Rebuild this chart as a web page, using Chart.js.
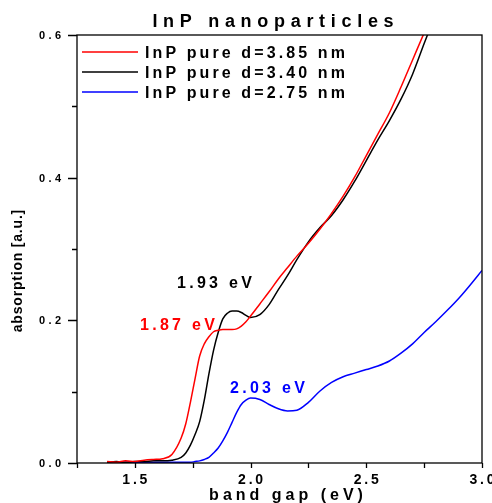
<!DOCTYPE html>
<html>
<head>
<meta charset="utf-8">
<script src="https://cdn.jsdelivr.net/npm/chart.js@4/dist/chart.umd.min.js"></script>
<style>
  html, body { margin: 0; padding: 0; background: #fff; }
  canvas { display: block; }
</style>
</head>
<body>
<canvas id="absChart" width="492" height="503"></canvas>
<script>
// Photon energy grid (eV), shared by all three spectra
const energy = [
    1.38, 1.42, 1.46, 1.50, 1.54, 1.58, 1.62, 1.66, 1.70, 1.72,
    1.74, 1.76, 1.78, 1.80, 1.82, 1.84, 1.86, 1.88, 1.90, 1.92,
    1.94, 1.96, 1.98, 2.00, 2.04, 2.08, 2.12, 2.16, 2.20, 2.25,
    2.30, 2.35, 2.40, 2.45, 2.50, 2.55, 2.60, 2.65, 2.70, 2.75,
    2.80, 2.85, 2.90, 2.95, 3.00
];

// Absorption [a.u.] per particle size
const absD385 = [
    0.002, 0.001, 0.003, 0.002, 0.004, 0.005, 0.006, 0.012, 0.035, 0.055,
    0.085, 0.118, 0.150, 0.167, 0.177, 0.184, 0.186, 0.187, 0.187, 0.187,
    0.188, 0.192, 0.198, 0.206, 0.223, 0.240, 0.258, 0.274, 0.290, 0.308,
    0.328, 0.350, 0.374, 0.401, 0.431, 0.461, 0.491, 0.527, 0.565, 0.603,
    0.640, 0.680, 0.720, 0.760, 0.800
];
const absD340 = [
    0.001, 0.002, 0.001, 0.002, 0.002, 0.003, 0.003, 0.004, 0.008, 0.014,
    0.025, 0.040, 0.058, 0.088, 0.125, 0.158, 0.183, 0.202, 0.210, 0.213,
    0.213, 0.211, 0.207, 0.204, 0.208, 0.222, 0.243, 0.263, 0.285, 0.310,
    0.330, 0.347, 0.369, 0.395, 0.424, 0.453, 0.480, 0.510, 0.545, 0.588,
    0.630, 0.670, 0.710, 0.750, 0.790
];
const absD275 = [
    0.001, 0.001, 0.001, 0.001, 0.001, 0.001, 0.001, 0.001, 0.001, 0.001,
    0.001, 0.002, 0.003, 0.005, 0.008, 0.014, 0.021, 0.031, 0.043, 0.057,
    0.071, 0.082, 0.088, 0.091, 0.089, 0.082, 0.076, 0.073, 0.074, 0.085,
    0.101, 0.113, 0.121, 0.126, 0.131, 0.136, 0.143, 0.154, 0.167, 0.183,
    0.198, 0.214, 0.231, 0.250, 0.270
];

const seriesLabels = ['InP pure d=3.85 nm', 'InP pure d=3.40 nm', 'InP pure d=2.75 nm'];
const seriesColors = ['#ff0000', '#000000', '#0000ff'];

// Exciton peak labels, coloured like their series, anchored at energy/absorption
const peakLabels = ['1.87 eV', '1.93 eV', '2.03 eV'];
const peakAnchorX = [1.522, 1.682, 1.911];
const peakAnchorY = [0.186, 0.245, 0.098];

const xMin = 1.25, xMax = 3.0, xStep = 0.25;
const yMin = 0.0, yMax = 0.6, yStep = 0.1;

const FONT = '"Liberation Sans", Arial, sans-serif';

function toPoints(ys) {
    return energy.map((x, i) => ({ x: x, y: ys[i] }));
}

// Draw text with extra tracking between letters
function spacedText(ctx, text, x, y, size, spacing, color, align) {
    ctx.save();
    ctx.font = 'bold ' + size + 'px ' + FONT;
    ctx.fillStyle = color;
    ctx.textAlign = 'left';
    ctx.letterSpacing = '0px';
    const w = ctx.measureText(text).width + spacing * (text.length - 1);
    let x0 = x;
    if (align === 'center') x0 = x - w / 2;
    else if (align === 'right') x0 = x - w;
    ctx.letterSpacing = spacing + 'px';
    ctx.fillText(text, x0, y);
    ctx.restore();
}

const frameAndText = {
    id: 'frameAndText',
    afterDraw(chart) {
        const ctx = chart.ctx;
        const a = chart.chartArea;
        const xs = chart.scales.x;
        const ys = chart.scales.y;

        // frame
        ctx.save();
        ctx.strokeStyle = '#000';
        ctx.lineWidth = 1.3;
        ctx.strokeRect(a.left, a.top, a.right - a.left, a.bottom - a.top);

        // x ticks (outward)
        ctx.beginPath();
        xs.ticks.forEach(t => {
            const px = Math.round(xs.getPixelForValue(t.value)) + 0.5;
            ctx.moveTo(px, a.bottom);
            ctx.lineTo(px, a.bottom + 5);
        });
        // y ticks: long on labelled values, short in between
        ys.ticks.forEach(t => {
            const py = Math.round(ys.getPixelForValue(t.value)) + 0.5;
            const major = Math.abs(t.value / 0.2 - Math.round(t.value / 0.2)) < 1e-6;
            ctx.moveTo(a.left, py);
            ctx.lineTo(a.left - (major ? 9 : 5), py);
        });
        ctx.stroke();
        ctx.restore();

        // tick labels
        xs.ticks.forEach(t => {
            if (Math.abs(t.value / 0.5 - Math.round(t.value / 0.5)) > 1e-6) return;
            spacedText(ctx, t.value.toFixed(1), xs.getPixelForValue(t.value), a.bottom + 21, 14, 2.8, '#000', 'center');
        });
        ys.ticks.forEach(t => {
            if (Math.abs(t.value / 0.2 - Math.round(t.value / 0.2)) > 1e-6) return;
            spacedText(ctx, t.value.toFixed(1), a.left - 16, ys.getPixelForValue(t.value) + 4, 11, 3.3, '#000', 'right');
        });

        // title
        spacedText(ctx, 'InP nanoparticles', 273, 27, 18, 5.7, '#000', 'center');

        // axis titles
        spacedText(ctx, 'band gap (eV)', 286, 500, 16, 4, '#000', 'center');
        ctx.save();
        ctx.translate(22, 271);
        ctx.rotate(-Math.PI / 2);
        spacedText(ctx, 'absorption [a.u.]', 0, 0, 14, 0.8, '#000', 'center');
        ctx.restore();

        // legend
        seriesLabels.forEach((label, i) => {
            const ly = a.top + 17 + i * 20;
            ctx.save();
            ctx.strokeStyle = seriesColors[i];
            ctx.lineWidth = 1.5;
            ctx.beginPath();
            ctx.moveTo(82, ly);
            ctx.lineTo(138, ly);
            ctx.stroke();
            ctx.restore();
            spacedText(ctx, label, 145, ly + 6, 16, 3.1, '#000', 'left');
        });

        // peak labels
        peakLabels.forEach((label, i) => {
            const px = xs.getPixelForValue(peakAnchorX[i]);
            const py = ys.getPixelForValue(peakAnchorY[i]);
            spacedText(ctx, label, px, py, 16, 3.3, seriesColors[i], 'left');
        });
    }
};

new Chart(document.getElementById('absChart'), {
    type: 'line',
    data: {
        datasets: [absD385, absD340, absD275].map((ys, i) => ({
            label: seriesLabels[i],
            data: toPoints(ys),
            borderColor: seriesColors[i],
            borderWidth: 1.5,
            pointRadius: 0,
            fill: false,
            cubicInterpolationMode: 'monotone'
        }))
    },
    options: {
        responsive: false,
        animation: false,
        layout: { padding: { top: 35, right: 10, left: 0, bottom: 0 } },
        plugins: {
            legend: { display: false },
            title: { display: false },
            tooltip: { enabled: false }
        },
        scales: {
            x: {
                type: 'linear',
                min: xMin,
                max: xMax,
                ticks: { display: false, stepSize: xStep },
                grid: { display: false },
                border: { display: false },
                afterFit(scale) { scale.height = 40; }
            },
            y: {
                type: 'linear',
                min: yMin,
                max: yMax,
                ticks: { display: false, stepSize: yStep },
                grid: { display: false },
                border: { display: false },
                afterFit(scale) { scale.width = 77; }
            }
        }
    },
    plugins: [frameAndText]
});
</script>
</body>
</html>
